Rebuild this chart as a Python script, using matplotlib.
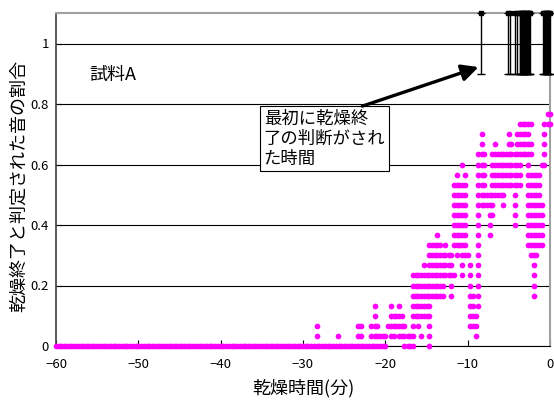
import numpy as np
import matplotlib
matplotlib.use('Agg')
import matplotlib.pyplot as plt

plt.rcParams['font.family'] = ['Noto Sans CJK JP', 'DejaVu Sans']

# 判定数 / 30音, 20秒(1/3分)ごと
n_sounds = 30
dt = 1/3
zero_from, zero_to = -60, -19.7    # この範囲はすべて0

# 判定された音の数ごとの時刻(分)
t_by_count = [
    [-17.7, -17.3, -17.0, -16.7, -14.7],
    [-28.3, -25.7, -23.3, -23.0, -21.7, -21.3, -21.0, -20.7, -20.3, -20.0, -19.3, -19.0, -18.3, -18.0,
     -17.7, -17.3, -17.0, -16.7, -15.7, -14.7, -9.0],
    [-28.3, -23.3, -23.0, -21.7, -21.3, -21.0, -19.7, -19.3, -19.0, -18.7, -18.3, -18.0, -17.7, -16.7,
     -16.0, -14.7, -9.7, -9.3, -9.0],
    [-21.3, -19.3, -19.0, -18.7, -18.3, -18.0, -16.7, -16.3, -16.0, -15.7, -15.3, -15.0, -14.7, -9.7,
     -9.3, -9.0],
    [-21.3, -19.3, -18.3, -16.7, -16.3, -16.0, -15.7, -15.3, -15.0, -14.7, -9.7, -9.3, -8.7],
    [-16.7, -16.3, -16.0, -15.7, -15.3, -15.0, -14.7, -14.3, -14.0, -13.7, -13.3, -13.0, -12.0, -9.7,
     -9.3, -8.7, -2.0],
    [-16.7, -16.3, -16.0, -15.7, -15.3, -15.0, -14.7, -14.3, -14.0, -13.7, -13.3, -13.0, -12.0, -9.7,
     -8.7, -2.0],
    [-16.7, -16.3, -16.0, -15.7, -15.3, -15.0, -14.7, -14.3, -14.0, -13.7, -13.3, -13.0, -12.7, -12.3,
     -12.0, -11.7, -10.7, -9.7, -8.7, -2.0],
    [-15.3, -14.7, -14.3, -14.0, -13.7, -13.3, -13.0, -12.7, -12.3, -12.0, -10.7, -9.7, -8.7, -2.0],
    [-14.7, -14.3, -14.0, -13.7, -13.3, -13.0, -12.7, -12.3, -12.0, -11.3, -10.7, -10.3, -10.0, -8.7,
     -2.3, -2.0, -1.7],
    [-14.7, -14.3, -14.0, -13.7, -13.3, -12.7, -11.7, -11.3, -11.0, -10.7, -10.3, -8.7, -2.7, -2.3,
     -2.0, -1.7, -1.3, -1.0],
    [-13.7, -11.7, -11.3, -11.0, -10.7, -10.3, -8.7, -7.3, -2.7, -2.3, -2.0, -1.7, -1.3, -1.0],
    [-11.7, -11.3, -11.0, -10.7, -10.3, -8.7, -7.3, -4.3, -2.7, -2.3, -2.0, -1.7, -1.3, -1.0],
    [-11.7, -11.3, -11.0, -10.7, -10.3, -8.7, -7.3, -7.0, -4.3, -2.7, -2.3, -2.0, -1.7, -1.3, -1.0],
    [-11.7, -11.3, -11.0, -10.7, -10.3, -8.7, -8.3, -8.0, -7.7, -7.3, -7.0, -5.7, -4.3, -2.7, -2.3,
     -2.0, -1.7, -1.3, -1.0],
    [-11.7, -11.3, -11.0, -10.7, -10.3, -8.7, -8.3, -8.0, -7.7, -7.3, -7.0, -6.7, -6.3, -6.0, -5.7,
     -4.3, -2.7, -2.3, -2.0, -1.7, -1.3],
    [-11.7, -11.3, -11.0, -10.7, -10.3, -8.7, -8.3, -8.0, -7.0, -6.7, -6.3, -6.0, -5.7, -5.3, -5.0,
     -4.7, -4.3, -4.0, -3.7, -2.7, -2.3, -2.0, -1.7, -1.3],
    [-11.3, -10.3, -8.7, -8.3, -8.0, -7.0, -6.7, -6.3, -6.0, -5.7, -5.3, -5.0, -4.7, -4.3, -4.0, -3.7,
     -2.7, -2.3, -2.0, -1.7, -1.3],
    [-10.7, -8.7, -8.3, -8.0, -7.0, -6.7, -6.3, -6.0, -5.7, -5.3, -5.0, -4.7, -4.3, -4.0, -3.7, -2.7,
     -1.0, -0.7],
    [-8.7, -8.3, -8.0, -7.0, -6.7, -6.3, -6.0, -5.7, -5.3, -5.0, -4.7, -4.3, -4.0, -3.7, -3.3, -3.0,
     -2.7, -2.3, -0.7],
    [-8.3, -6.7, -5.0, -4.7, -4.0, -3.7, -3.3, -3.0, -2.7, -2.3, -0.7],
    [-8.3, -5.0, -4.0, -3.7, -3.3, -3.0, -2.7, -0.7],
    [-3.7, -3.3, -3.0, -2.7, -2.3, -0.7, -0.3, 0.0],
    [-0.3, 0.0],
]

# 最初に乾燥終了と判断された時刻
first_dry_t = [-8.35, -5.05, -4.8, -4.2, -4.0, -3.7, -3.6, -3.5, -3.4, -3.3, -3.2, -3.1, -3.0, -2.9,
               -2.8, -2.7, -2.6, -2.5, -2.4, -0.8, -0.7, -0.6, -0.5, -0.4, -0.3, -0.2, -0.1, 0.0]
marker_y = 1.1
bar_down = 0.2

xticks = [-60, -50, -40, -30, -20, -10, 0]
yticks = [0, 0.2, 0.4, 0.6, 0.8, 1.0]
ytick_labels = ['0', '0.2', '0.4', '0.6', '0.8', '1']

# 散布点
xs = list(np.arange(zero_from, zero_to + 0.01, dt))
ys = [0.0] * len(xs)
for k, ts in enumerate(t_by_count):
    xs += ts
    ys += [k / n_sounds] * len(ts)

fig = plt.figure(figsize=(5.54, 4.05), dpi=100)
ax = fig.add_axes([56/554, 59/405, 494/554, 332.75/405])

ax.scatter(xs, ys, s=17, color='#ff00ff', linewidths=0, zorder=3, clip_on=False)

n = len(first_dry_t)
ax.errorbar(first_dry_t, [marker_y]*n, yerr=[[bar_down]*n, [0]*n], fmt='s', color='k',
            ms=3.5, capsize=3, elinewidth=1, capthick=1, zorder=4, clip_on=False)

ax.set_xlim(-60, 0)
ax.set_ylim(0, 1.1)
ax.set_xticks(xticks)
ax.set_yticks(yticks)
ax.set_yticklabels(ytick_labels)
ax.yaxis.grid(True, color='k', lw=0.8)
ax.set_axisbelow(True)

ax.tick_params(direction='in', length=4, width=0.8, labelsize=9.5)
ax.tick_params(axis='x', pad=9)
ax.tick_params(axis='y', pad=5)
for s in ['top', 'right']:
    ax.spines[s].set_color('#a0a0a0')
    ax.spines[s].set_linewidth(1.5)
ax.spines['left'].set_color('#404040')
ax.spines['left'].set_linewidth(1.2)
ax.spines['bottom'].set_color('k')

ax.set_ylabel('乾燥終了と判定された音の割合', fontsize=13)
ax.yaxis.set_label_coords(-0.057, 0.48)
ax.set_xlabel('乾燥時間(分)', fontsize=13)
ax.xaxis.set_label_coords(0.5, -0.1)

ax.text(-55.9, 0.895, '試料A', fontsize=13, va='center')

ax.text(-34.77, 0.782, '最初に乾燥終\n了の判断がされ\nた時間', fontsize=12.5, va='top', ha='left',
        linespacing=1.15, zorder=5,
        bbox=dict(boxstyle='square,pad=0.2', fc='white', ec='k', lw=0.8))
ax.annotate('', xy=(-8.68, 0.922), xytext=(-22.79, 0.793),
            arrowprops=dict(arrowstyle='-|>,head_length=1.0,head_width=0.5', lw=2.4, color='k',
                            shrinkA=0, shrinkB=0), zorder=6)

fig.savefig('out.png', dpi=100)
